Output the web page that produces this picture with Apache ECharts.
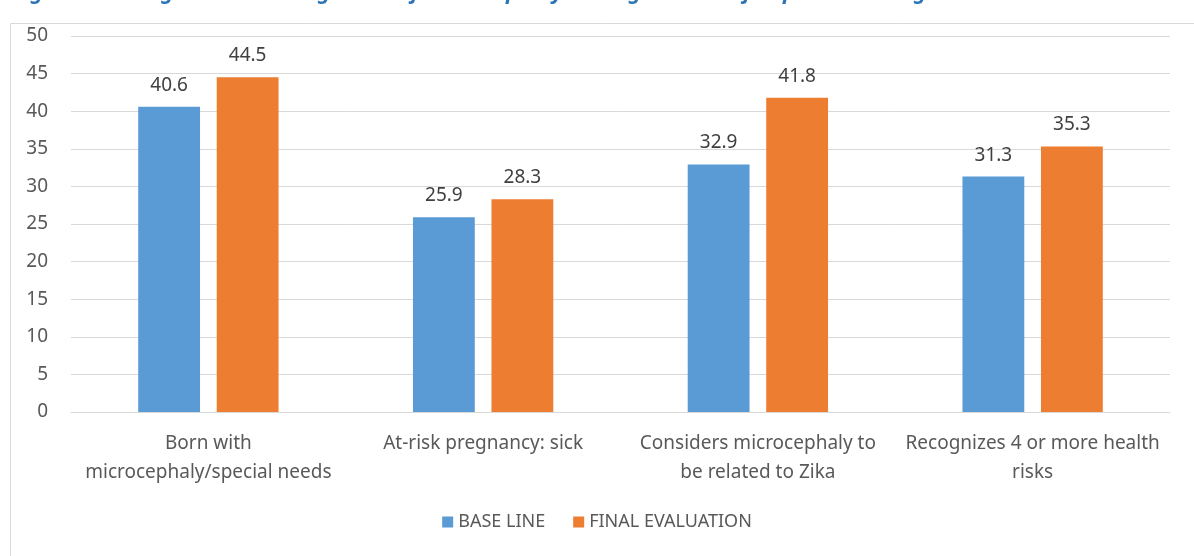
<!DOCTYPE html>
<html>
<head>
<meta charset="utf-8">
<script src="https://cdn.jsdelivr.net/npm/echarts@6/dist/echarts.min.js"></script>
<style>
  html, body { margin: 0; padding: 0; background: #fff; }
  #chart { width: 1194px; height: 556px; }
</style>
</head>
<body>
<div id="chart"></div>
<script>
// ---------- data ----------
var categories = [
  'Born with\nmicrocephaly/special needs',
  'At-risk pregnancy: sick',
  'Considers microcephaly to\nbe related to Zika',
  'Recognizes 4 or more health\nrisks'
];
var baseLine = [40.6, 25.9, 32.9, 31.3];
var finalEvaluation = [44.5, 28.3, 41.8, 35.3];
var seriesNames = ['BASE LINE', 'FINAL EVALUATION'];
var yTicks = [0, 5, 10, 15, 20, 25, 30, 35, 40, 45, 50];

// ---------- style ----------
var font = 'Noto Sans';
var textColor = '#595959';

var option = {
  animation: false,
  textStyle: { fontFamily: font },
  graphic: [
    {
      // title sits mostly above the visible area, only its descenders show
      type: 'text',
      x: 12,
      y: 4,
      style: {
        text: 'Figure 4: Changes in the Recognition of Microcephaly among Women of Reproductive Age',
        font: 'italic bold 22px "Noto Sans"',
        verticalAlign: 'bottom',
        fill: '#2E75B6'
      }
    },
    {
      type: 'rect',
      shape: { x: 10.5, y: 23.5, width: 1190, height: 540 },
      style: { fill: 'none', stroke: '#d9d9d9', lineWidth: 1 }
    }
  ],
  legend: {
    data: seriesNames,
    bottom: 20,
    left: 'center',
    itemWidth: 11,
    itemHeight: 11,
    itemGap: 28,
    icon: 'rect',
    textStyle: { fontSize: 18, color: textColor, fontFamily: font }
  },
  grid: { left: 71, right: 24, top: 36, bottom: 144 },
  xAxis: {
    type: 'category',
    data: categories,
    axisTick: { show: false },
    axisLine: { lineStyle: { color: '#d9d9d9' } },
    axisLabel: {
      color: textColor,
      fontSize: 19,
      lineHeight: 29,
      margin: 17,
      interval: 0
    }
  },
  yAxis: {
    type: 'value',
    min: yTicks[0],
    max: yTicks[yTicks.length - 1],
    interval: yTicks[1] - yTicks[0],
    axisLine: { show: false },
    axisTick: { show: false },
    splitLine: { lineStyle: { color: '#d9d9d9' } },
    axisLabel: { color: textColor, fontSize: 19, margin: 23 }
  },
  series: [
    {
      name: seriesNames[0],
      type: 'bar',
      data: baseLine,
      barWidth: '22.5%',
      barGap: '27%',
      itemStyle: { color: '#5B9BD5' },
      label: { show: true, position: 'top', distance: 12, fontSize: 19, color: '#404040' }
    },
    {
      name: seriesNames[1],
      type: 'bar',
      data: finalEvaluation,
      barWidth: '22.5%',
      itemStyle: { color: '#ED7D31' },
      label: { show: true, position: 'top', distance: 12, fontSize: 19, color: '#404040' }
    }
  ]
};

echarts.init(document.getElementById('chart')).setOption(option);
</script>
</body>
</html>
